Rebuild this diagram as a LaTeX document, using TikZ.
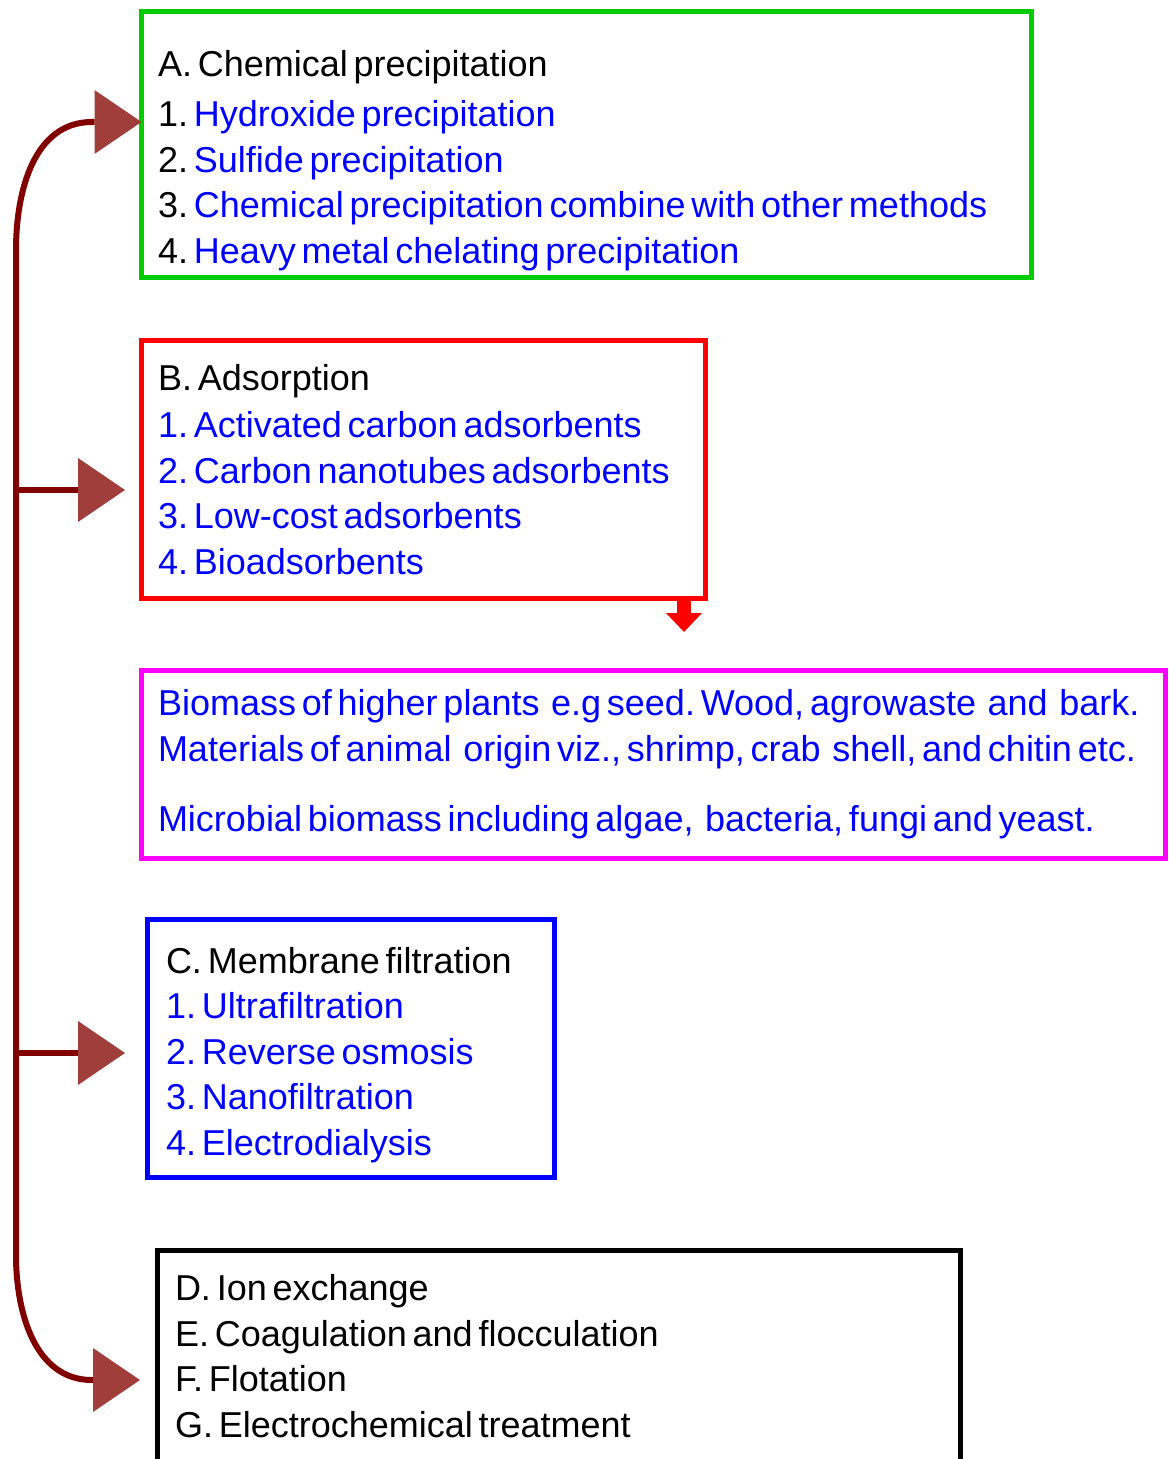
\documentclass[tikz,border=0pt]{standalone}
\usepackage{fontspec}
\setmainfont{Liberation Sans}
\usetikzlibrary{arrows.meta}
\definecolor{chemgreen}{RGB}{0,204,0}
\definecolor{biomagenta}{RGB}{255,0,255}
\definecolor{linkred}{RGB}{128,0,0}
\definecolor{tipred}{RGB}{160,62,60}
\newcommand{\itm}[1]{\textcolor{blue}{#1}}
\frenchspacing

\begin{document}
\begin{tikzpicture}[x=0.5pt,y=-0.5pt,
    panel/.style={draw, line width=2.5pt, outer sep=0pt, anchor=north west, align=left,
      inner xsep=8.25pt, inner ysep=0pt, font=\fontsize{18pt}{22.75pt}\selectfont,
      execute at begin node={\spaceskip 2.9pt\relax\xspaceskip 2.9pt\relax}},
    link/.style={draw=linkred, line width=3pt},
    bigtip/.style={-{Triangle[length=23.5pt,width=32pt,line width=0pt,color=tipred]}}]
    \useasboundingbox (0,0) rectangle (1168,1459);
    % Draw the method boxes
    \node[panel, draw=chemgreen, minimum width=445pt, text width=428.5pt, minimum height=133pt] (chem) at (141.5,11.5)
        {\rule{0pt}{29pt}A. Chemical precipitation\\[2.25pt]
         1. \itm{Hydroxide precipitation}\\
         2. \itm{Sulfide precipitation}\\
         3. \itm{Chemical precipitation combine with other methods}\\
         4. \itm{Heavy metal chelating precipitation}};
    \node[panel, draw=red, minimum width=281.75pt, text width=265.25pt, minimum height=128.5pt] (ads) at (141.5,341)
        {B. Adsorption\\[0.75pt]
         \itm{1. Activated carbon adsorbents}\\
         \itm{2. Carbon nanotubes adsorbents}\\
         \itm{3. Low-cost adsorbents}\\
         \itm{4. Bioadsorbents}};
    \node[panel, draw=biomagenta, minimum width=512pt, text width=495.5pt, minimum height=94.25pt] (bio) at (141.5,670)
        {\itm{\mbox{Biomass of higher plants\ \ e.g seed. Wood, agrowaste\ \ and\ \ bark.}}\\
         \itm{\mbox{Materials of animal\ \ origin viz., shrimp, crab\ \ shell, and chitin etc.}}\\[12.25pt]
         \itm{\mbox{Microbial biomass including algae,\ \ bacteria, fungi and yeast.}}};
    \node[panel, draw=blue, inner xsep=9.5pt, minimum width=203.75pt, text width=184.75pt, minimum height=129pt] (memb) at (147,919)
        {\rule{0pt}{20pt}C. Membrane filtration\\
         \itm{1. Ultrafiltration}\\
         \itm{2. Reverse osmosis}\\
         \itm{3. Nanofiltration}\\
         \itm{4. Electrodialysis}};
    \node[panel, draw=black, inner xsep=8.75pt, minimum width=401.25pt, text width=383.75pt, minimum height=106pt] (other) at (157.5,1250)
        {D. Ion exchange\\
         E. Coagulation and flocculation\\
         F. Flotation\\
         G. Electrochemical treatment};
    % Arrow ends and branch points
    \coordinate (toA) at (chem.west |- 0,122);
    \coordinate (toB) at (125,490);
    \coordinate (toC) at (125,1053);
    \coordinate (toD) at (140,1380);
    \coordinate (trunkB) at (16,490);
    \coordinate (trunkC) at (16,1053);
    \coordinate (fromB) at (684,598);
    \coordinate (toBio) at (684,632);
    % Draw the connectors
    \draw[link, {Triangle[length=23.5pt,width=32pt,line width=0pt,color=tipred]}-{Triangle[length=23.5pt,width=32pt,line width=0pt,color=tipred]}]
        (toA) -- (92,122) to[out=180,in=90] (16,250) -- (16,1255) to[out=-90,in=180] (92,1380) -- (toD);
    \draw[link, bigtip] (trunkB) -- (toB);
    \draw[link, bigtip] (trunkC) -- (toC);
    \draw[draw=red, line width=7pt, -{Triangle[length=9.5pt,width=18pt,line width=0pt]}] (fromB) -- (toBio);
\end{tikzpicture}
\end{document}
